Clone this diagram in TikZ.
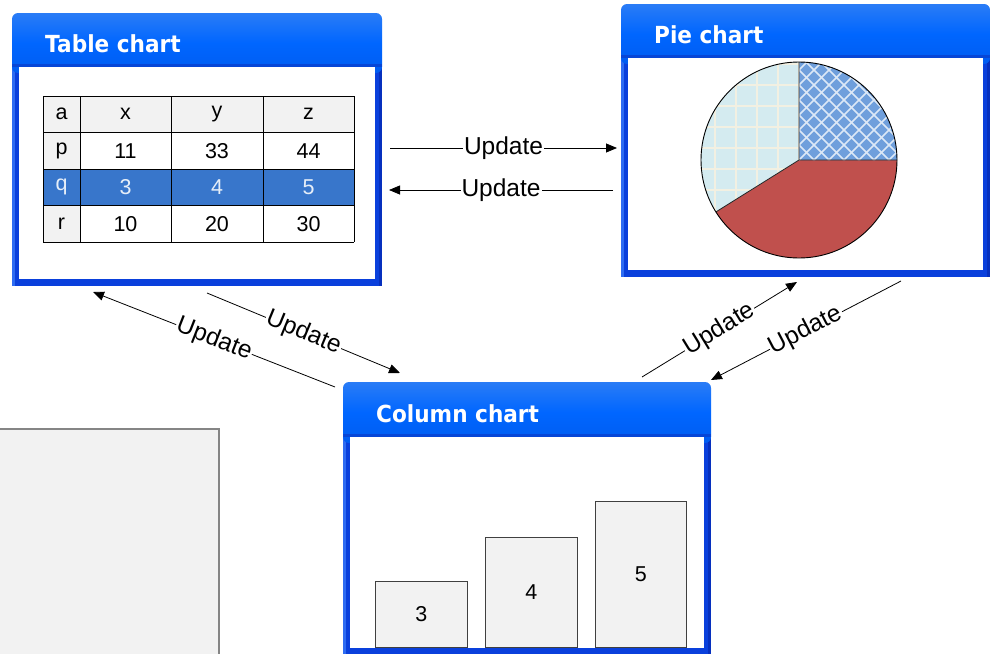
\documentclass[tikz,border=0pt]{standalone}
\usepackage{fontspec}
\setmainfont{Liberation Sans}
\newfontfamily\titlefont{DejaVu Sans}[FakeStretch=0.92]
\usetikzlibrary{arrows.meta}

\definecolor{frameblue}{HTML}{0A40DC}
\definecolor{framelight}{HTML}{2E6CF2}
\definecolor{frameshade}{HTML}{0630BE}
\definecolor{barTop}{HTML}{2A7CF6}
\definecolor{barMid}{HTML}{0066FF}
\definecolor{barBottom}{HTML}{005CF0}
\definecolor{barEdge}{HTML}{0746D6}
\definecolor{cellgray}{HTML}{F2F2F2}
\definecolor{rowblue}{HTML}{3876CB}
\definecolor{rowtext}{HTML}{E6EEF8}
\definecolor{pieRed}{HTML}{C0504D}
\definecolor{pieBlue}{HTML}{6F9FDC}
\definecolor{pieHatch}{HTML}{DCE8F6}
\definecolor{pieSky}{HTML}{D4EBF0}
\definecolor{pieGrid}{HTML}{F2F0E2}
\definecolor{panelline}{HTML}{858585}

\tikzset{
  link/.style={draw=black, line width=0.8pt, -{Triangle[length=11pt,width=9pt]}},
  linklabel/.style={fill=white, inner sep=1pt, sloped, font=\fontsize{24.5}{24.5}\selectfont},
  titletext/.style={text=white, inner sep=0pt, font=\titlefont\bfseries\fontsize{23.5}{24}\selectfont},
  celltext/.style={inner sep=0pt, font=\fontsize{21.5}{21.5}\selectfont},
  gridline/.style={draw=black, line width=0.9pt},
  barbox/.style={draw=black!75, line width=0.9pt, fill=cellgray, anchor=south west,
                 inner sep=0pt, font=\fontsize{21.5}{21.5}\selectfont},
}

% window with a blue title bar: #1 name, #2 left, #3 top, #4 right, #5 bottom,
% #6 lower edge of the title bar, #7 title
\newcommand\chartwin[7]{%
  \fill[frameblue] (#2,#3+10) rectangle (#4,#5);
  \fill[framelight] (#2,#6) rectangle (#2+3,#5);
  \fill[frameshade] (#4-3,#6) rectangle (#4,#5);
  \shade[top color=barTop, bottom color=barBottom, middle color=barMid,
         rounded corners=6pt] (#2,#3) rectangle (#4,#6+6);
  \fill[barEdge] (#2,#6-3) rectangle (#4,#6);
  \fill[white] (#2+7,#6) rectangle (#4-7,#5-7);
  \path (#2,#3) coordinate (#1-nw) (#4,#5) coordinate (#1-se);
  \node[titletext, anchor=base west] (#1-title) at (#2+33,#6-15) {#7};
}

\begin{document}
\begin{tikzpicture}[x=1pt,y=-1pt]
\useasboundingbox (0,0) rectangle (990,653);

% grey panel in the lower left corner
\node[draw=panelline, line width=1.6pt, fill=cellgray, anchor=north west,
      minimum width=222pt, minimum height=235pt, inner sep=0pt] (panel) at (-4,428) {};

% ---------------- table chart ----------------
\chartwin{tab}{12}{13}{382}{286}{67}{Table chart}

% cell backgrounds
\fill[cellgray] (43,96) rectangle (354,132.5);
\fill[cellgray] (43,96) rectangle (80,242);
\fill[rowblue] (43,169) rectangle (354,205.5);
% grid
\foreach \gx in {43,80,171,263,354} \draw[gridline] (\gx,96) -- (\gx,242);
\foreach \gy in {96,132.5,169,205.5,242} \draw[gridline] (43,\gy) -- (354,\gy);
% cell texts
\foreach \txt [count=\c from 0] in {a,x,y,z} {
  \pgfmathsetmacro\cx{{61.5,125.5,217,308.5}[\c]}
  \node[celltext] (c0-\c) at (\cx,114.2) {\txt};
}
\foreach \txt [count=\c from 0] in {p,11,33,44} {
  \pgfmathsetmacro\cx{{61.5,125.5,217,308.5}[\c]}
  \node[celltext] (c1-\c) at (\cx,150.7) {\txt};
}
\foreach \txt [count=\c from 0] in {q,3,4,5} {
  \pgfmathsetmacro\cx{{61.5,125.5,217,308.5}[\c]}
  \node[celltext, text=rowtext] (c2-\c) at (\cx,187.2) {\txt};
}
\foreach \txt [count=\c from 0] in {r,10,20,30} {
  \pgfmathsetmacro\cx{{61.5,125.5,217,308.5}[\c]}
  \node[celltext] (c3-\c) at (\cx,223.7) {\txt};
}

% ---------------- pie chart ----------------
\chartwin{pie}{621}{4}{990}{277}{58}{Pie chart}

\coordinate (pc) at (799,160);
% red slice
\fill[pieRed] (pc) -- ++(0:98) arc[start angle=0,end angle=148,radius=98] -- cycle;
% cross-hatched slice
\fill[pieBlue] (pc) -- ++(0:98) arc[start angle=0,end angle=-90,radius=98] -- cycle;
\begin{scope}
  \clip (pc) -- ++(0:98) arc[start angle=0,end angle=-90,radius=98] -- cycle;
  \foreach \k in {-8,...,16} {
    \draw[pieHatch, line width=1.5pt] (799+\k*15-160,160-160) -- ++(320,320);
    \draw[pieHatch, line width=1.5pt] (799+\k*15-160,160+160) -- ++(320,-320);
  }
\end{scope}
% checked slice
\fill[pieSky] (pc) -- ++(148:98) arc[start angle=148,end angle=270,radius=98] -- cycle;
\begin{scope}
  \clip (pc) -- ++(148:98) arc[start angle=148,end angle=270,radius=98] -- cycle;
  \foreach \gx in {694,715,...,799} \draw[pieGrid, line width=2.2pt] (\gx,55) -- (\gx,265);
  \foreach \gy in {64,85,...,232} \draw[pieGrid, line width=2.2pt] (690,\gy) -- (810,\gy);
\end{scope}
% outlines
\draw[line width=0.8pt, black!85] (pc) -- ++(0:98) (pc) -- ++(-90:98) (pc) -- ++(148:98);
\draw[line width=0.9pt] (pc) circle[radius=98];

% ---------------- column chart ----------------
\chartwin{col}{343}{382}{711}{655}{437}{Column chart}

\node[barbox, minimum width=92pt, minimum height=66pt]  (bar3) at (375,648) {3};
\node[barbox, minimum width=92pt, minimum height=110pt] (bar4) at (485,648) {4};
\node[barbox, minimum width=91pt, minimum height=146pt] (bar5) at (595,648) {5};

% ---------------- update links ----------------
\coordinate (tab-out1) at (390,148);
\coordinate (pie-in1)  at (617,148);
\coordinate (pie-out1) at (613,190);
\coordinate (tab-in1)  at (389,190);
\coordinate (tab-out2) at (207,293);
\coordinate (col-in1)  at (400,373);
\coordinate (col-out1) at (335,387);
\coordinate (tab-in2)  at (93,292);
\coordinate (col-out2) at (642,377);
\coordinate (pie-in2)  at (797,282);
\coordinate (pie-out2) at (901,281);
\coordinate (col-in2)  at (711,380);

\draw[link] (tab-out1) -- node[linklabel] (u1) {Update} (pie-in1);
\draw[link] (pie-out1) -- node[linklabel] (u2) {Update} (tab-in1);
\draw[link] (tab-out2) -- node[linklabel] (u3) {Update} (col-in1);
\draw[link] (col-out1) -- node[linklabel] (u4) {Update} (tab-in2);
\draw[link] (col-out2) -- node[linklabel] (u5) {Update} (pie-in2);
\draw[link] (pie-out2) -- node[linklabel] (u6) {Update} (col-in2);

\end{tikzpicture}
\end{document}
